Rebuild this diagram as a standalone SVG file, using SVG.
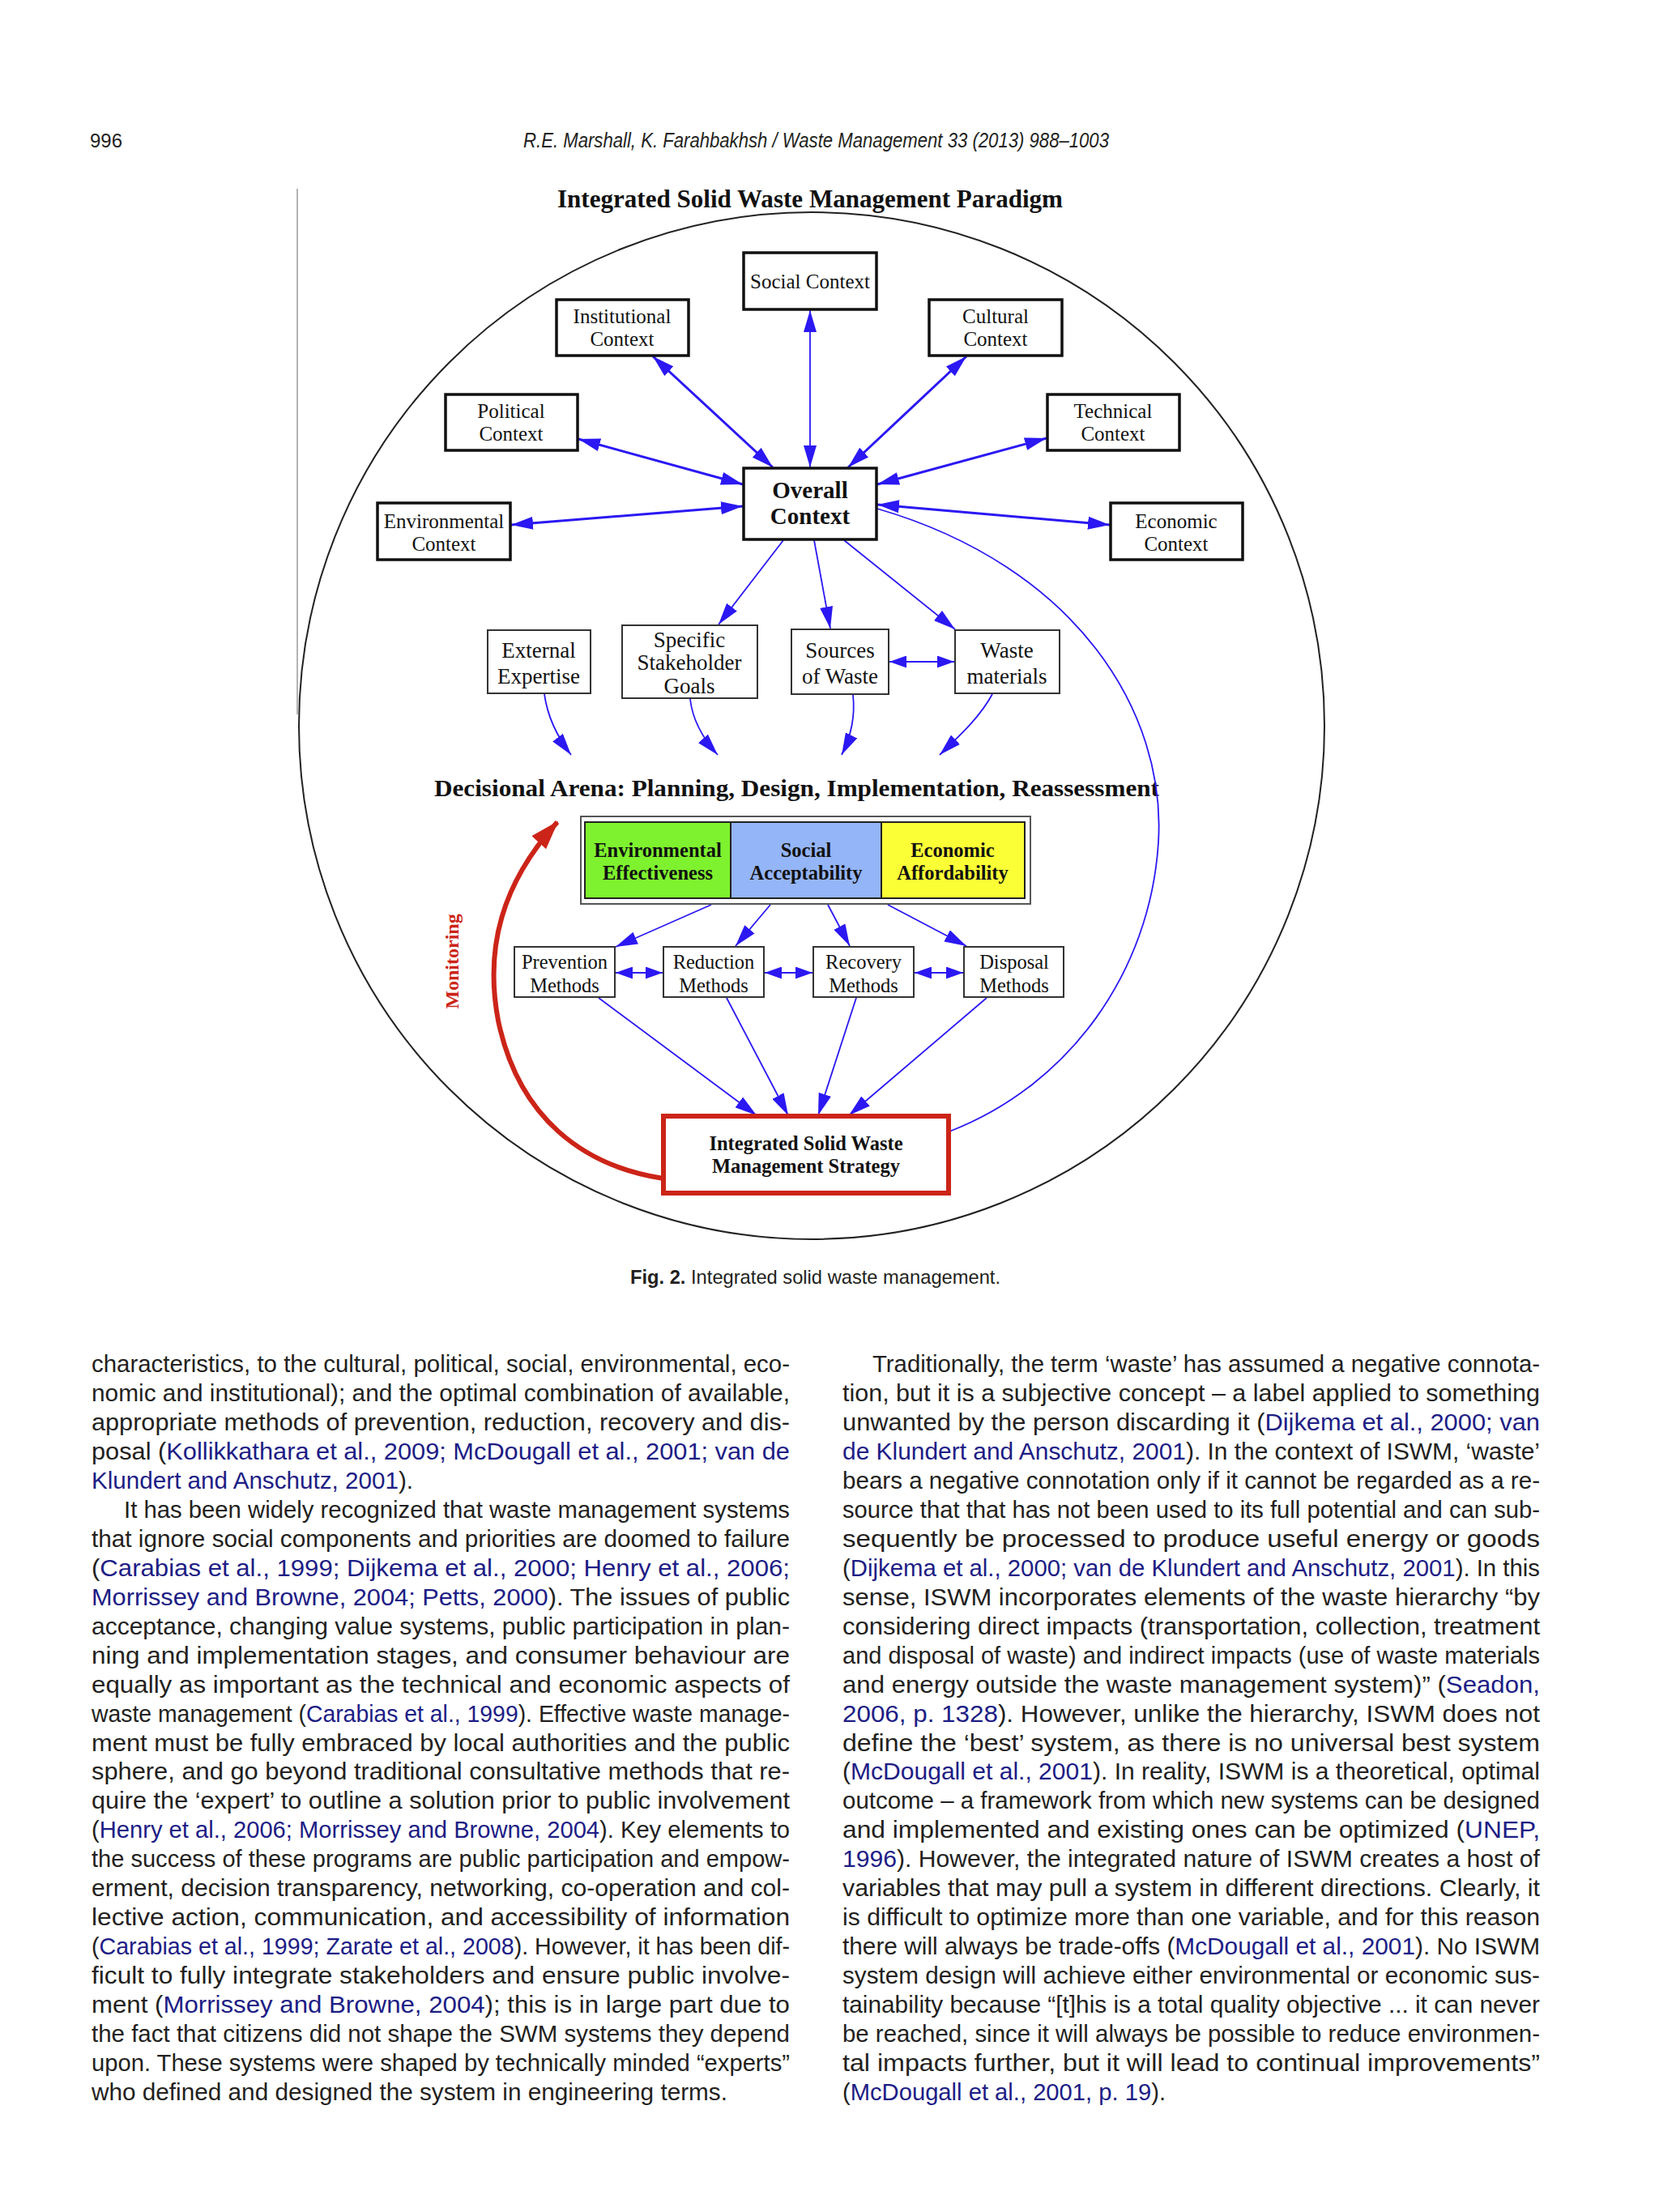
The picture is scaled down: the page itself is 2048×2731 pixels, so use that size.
<svg xmlns="http://www.w3.org/2000/svg" width="2048" height="2731" viewBox="0 0 2048 2731">
<style>
.ser{font-family:"Liberation Serif","Times New Roman",serif;fill:#111}
.ctx{font-size:25px}
.low{font-size:27px}
.met{font-size:24.5px}
.bld{font-weight:bold}
.box{fill:#fff;stroke:#111;stroke-width:3.5}
.tbox{fill:#fff;stroke:#333;stroke-width:2}
.arr{fill:none;stroke:#2b18f2;stroke-width:1.8}
.arrT{fill:none;stroke:#2b18f2;stroke-width:3}
.body{font-family:"Liberation Sans",Arial,sans-serif;font-size:29px;fill:#231f20}
.cit{fill:#1d1d85}
</style>
<defs>
<marker id="ah" markerUnits="userSpaceOnUse" markerWidth="27" markerHeight="16" viewBox="0 0 27 16" refX="27" refY="8" orient="auto-start-reverse"><path d="M0,0 L27,8 L0,16 z" fill="#2b18f2"/></marker>
<marker id="ahs" markerUnits="userSpaceOnUse" markerWidth="21" markerHeight="15" viewBox="0 0 21 15" refX="21" refY="7.5" orient="auto-start-reverse"><path d="M0,0 L21,7.5 L0,15 z" fill="#2b18f2"/></marker>
<marker id="ahr" markerUnits="userSpaceOnUse" markerWidth="36" markerHeight="24" viewBox="0 0 36 24" refX="34" refY="12" orient="auto"><path d="M0,0 L36,12 L0,24 z" fill="#cc2418"/></marker>
</defs>
<rect width="2048" height="2731" fill="#fff"/>

<g id="header">
<text x="111" y="182" style="font-family:'Liberation Sans',Arial,sans-serif;font-size:24px;fill:#231f20">996</text>
<text x="646" y="182" textLength="723" lengthAdjust="spacingAndGlyphs" style="font-family:'Liberation Sans',Arial,sans-serif;font-size:25px;font-style:italic;fill:#231f20">R.E. Marshall, K. Farahbakhsh / Waste Management 33 (2013) 988–1003</text>
</g>

<g id="frame">
<line x1="367" y1="233" x2="367" y2="882" stroke="#9a9a9a" stroke-width="1.5"/>
<ellipse cx="1002" cy="896" rx="633" ry="634" fill="none" stroke="#222" stroke-width="2"/>
<text class="ser bld" x="1000" y="256" text-anchor="middle" font-size="31" textLength="624" lengthAdjust="spacingAndGlyphs">Integrated Solid Waste Management Paradigm</text>
<text class="ser bld" x="536" y="983" font-size="30" textLength="895" lengthAdjust="spacingAndGlyphs">Decisional Arena: Planning, Design, Implementation, Reassessment</text>
<text class="bld" transform="translate(566,1187) rotate(-90)" text-anchor="middle" style="font-family:'Liberation Serif',serif;font-size:24px;fill:#cc2418">Monitoring</text>
</g>

<g id="connectors">
<line class="arr" x1="1000" y1="383" x2="1000" y2="577" marker-start="url(#ah)" marker-end="url(#ah)"/>
<line class="arrT" x1="806" y1="440" x2="954" y2="577" marker-start="url(#ah)" marker-end="url(#ah)"/>
<line class="arrT" x1="1193" y1="440" x2="1047" y2="577" marker-start="url(#ah)" marker-end="url(#ah)"/>
<line class="arrT" x1="714" y1="542" x2="917" y2="598" marker-start="url(#ah)" marker-end="url(#ah)"/>
<line class="arrT" x1="1292" y1="541" x2="1083" y2="598" marker-start="url(#ah)" marker-end="url(#ah)"/>
<line class="arrT" x1="631" y1="648" x2="917" y2="625" marker-start="url(#ah)" marker-end="url(#ah)"/>
<line class="arrT" x1="1370" y1="648" x2="1083" y2="623" marker-start="url(#ah)" marker-end="url(#ah)"/>
<line class="arr" x1="967" y1="667" x2="887" y2="771" marker-end="url(#ah)"/>
<line class="arr" x1="1005" y1="667" x2="1025" y2="776" marker-end="url(#ah)"/>
<line class="arr" x1="1042" y1="667" x2="1179" y2="777" marker-end="url(#ah)"/>
<line class="arr" x1="1098" y1="817" x2="1178" y2="817" marker-start="url(#ahs)" marker-end="url(#ahs)"/>
<path class="arr" d="M672,857 C676,885 688,910 705,932" marker-end="url(#ah)"/>
<path class="arr" d="M852,863 C855,890 868,912 886,932" marker-end="url(#ah)"/>
<path class="arr" d="M1053,858 C1056,885 1050,910 1039,932" marker-end="url(#ah)"/>
<path class="arr" d="M1225,857 C1210,885 1185,908 1160,932" marker-end="url(#ah)"/>
<path class="arr" d="M1083,628 C1330,700 1440,880 1430,1040 C1420,1200 1320,1340 1172,1397"/>
<line class="arr" x1="878" y1="1117" x2="760" y2="1169" marker-end="url(#ah)"/>
<line class="arr" x1="951" y1="1117" x2="908" y2="1168" marker-end="url(#ah)"/>
<line class="arr" x1="1022" y1="1117" x2="1049" y2="1168" marker-end="url(#ah)"/>
<line class="arr" x1="1096" y1="1117" x2="1193" y2="1168" marker-end="url(#ah)"/>
<line class="arr" x1="760" y1="1201" x2="818" y2="1201" marker-start="url(#ahs)" marker-end="url(#ahs)"/>
<line class="arr" x1="944" y1="1201" x2="1003" y2="1201" marker-start="url(#ahs)" marker-end="url(#ahs)"/>
<line class="arr" x1="1129" y1="1201" x2="1189" y2="1201" marker-start="url(#ahs)" marker-end="url(#ahs)"/>
<line class="arr" x1="739" y1="1232" x2="934" y2="1377" marker-end="url(#ah)"/>
<line class="arr" x1="897" y1="1232" x2="973" y2="1377" marker-end="url(#ah)"/>
<line class="arr" x1="1057" y1="1232" x2="1010" y2="1377" marker-end="url(#ah)"/>
<line class="arr" x1="1218" y1="1232" x2="1048" y2="1377" marker-end="url(#ah)"/>
<path d="M819,1455 C720,1440 640,1380 615,1260 C598,1170 620,1090 688,1015" fill="none" stroke="#cc2418" stroke-width="6" marker-end="url(#ahr)"/>
</g>

<g id="social-context"><rect class="box" x="918" y="312" width="164" height="70"/><text class="ser ctx" x="1000" y="356" text-anchor="middle">Social Context</text></g>
<g id="institutional-context"><rect class="box" x="687" y="370" width="163" height="69"/><text class="ser ctx" x="768" y="399" text-anchor="middle">Institutional</text><text class="ser ctx" x="768" y="427" text-anchor="middle">Context</text></g>
<g id="cultural-context"><rect class="box" x="1147" y="370" width="164" height="69"/><text class="ser ctx" x="1229" y="399" text-anchor="middle">Cultural</text><text class="ser ctx" x="1229" y="427" text-anchor="middle">Context</text></g>
<g id="political-context"><rect class="box" x="550" y="487" width="163" height="69"/><text class="ser ctx" x="631" y="516" text-anchor="middle">Political</text><text class="ser ctx" x="631" y="544" text-anchor="middle">Context</text></g>
<g id="technical-context"><rect class="box" x="1293" y="487" width="163" height="69"/><text class="ser ctx" x="1374" y="516" text-anchor="middle">Technical</text><text class="ser ctx" x="1374" y="544" text-anchor="middle">Context</text></g>
<g id="environmental-context"><rect class="box" x="466" y="621" width="164" height="70"/><text class="ser ctx" x="548" y="652" text-anchor="middle">Environmental</text><text class="ser ctx" x="548" y="680" text-anchor="middle">Context</text></g>
<g id="economic-context"><rect class="box" x="1371" y="621" width="163" height="70"/><text class="ser ctx" x="1452" y="652" text-anchor="middle">Economic</text><text class="ser ctx" x="1452" y="680" text-anchor="middle">Context</text></g>
<g id="overall-context"><rect class="box" x="918" y="578" width="164" height="88"/><text class="ser bld" font-size="29" x="1000" y="615" text-anchor="middle">Overall</text><text class="ser bld" font-size="29" x="1000" y="647" text-anchor="middle">Context</text></g>

<g id="external-expertise"><rect class="tbox" x="602" y="778" width="127" height="78"/><text class="ser low" x="665" y="812" text-anchor="middle">External</text><text class="ser low" x="665" y="844" text-anchor="middle">Expertise</text></g>
<g id="stakeholder-goals"><rect class="tbox" x="768" y="772" width="167" height="90"/><text class="ser low" x="851" y="799" text-anchor="middle">Specific</text><text class="ser low" x="851" y="827" text-anchor="middle">Stakeholder</text><text class="ser low" x="851" y="856" text-anchor="middle">Goals</text></g>
<g id="sources-of-waste"><rect class="tbox" x="977" y="777" width="120" height="80"/><text class="ser low" x="1037" y="812" text-anchor="middle">Sources</text><text class="ser low" x="1037" y="844" text-anchor="middle">of Waste</text></g>
<g id="waste-materials"><rect class="tbox" x="1179" y="778" width="129" height="78"/><text class="ser low" x="1243" y="812" text-anchor="middle">Waste</text><text class="ser low" x="1243" y="844" text-anchor="middle">materials</text></g>

<g id="criteria">
<rect x="717" y="1008" width="555" height="108" fill="#fff" stroke="#555" stroke-width="2"/>
<rect x="722" y="1015" width="180" height="94" fill="#7ef22e" stroke="#222" stroke-width="2"/>
<rect x="902" y="1015" width="186" height="94" fill="#94b5f7" stroke="#222" stroke-width="2"/>
<rect x="1088" y="1015" width="177" height="94" fill="#fbff36" stroke="#222" stroke-width="2"/>
<text class="ser bld met" x="812" y="1058" text-anchor="middle">Environmental</text><text class="ser bld met" x="812" y="1086" text-anchor="middle">Effectiveness</text>
<text class="ser bld met" x="995" y="1058" text-anchor="middle">Social</text><text class="ser bld met" x="995" y="1086" text-anchor="middle">Acceptability</text>
<text class="ser bld met" x="1176" y="1058" text-anchor="middle">Economic</text><text class="ser bld met" x="1176" y="1086" text-anchor="middle">Affordability</text>
</g>

<g id="prevention-methods"><rect class="tbox" x="635" y="1169" width="124" height="62"/><text class="ser met" x="697" y="1196" text-anchor="middle">Prevention</text><text class="ser met" x="697" y="1225" text-anchor="middle">Methods</text></g>
<g id="reduction-methods"><rect class="tbox" x="819" y="1169" width="124" height="62"/><text class="ser met" x="881" y="1196" text-anchor="middle">Reduction</text><text class="ser met" x="881" y="1225" text-anchor="middle">Methods</text></g>
<g id="recovery-methods"><rect class="tbox" x="1004" y="1169" width="124" height="62"/><text class="ser met" x="1066" y="1196" text-anchor="middle">Recovery</text><text class="ser met" x="1066" y="1225" text-anchor="middle">Methods</text></g>
<g id="disposal-methods"><rect class="tbox" x="1190" y="1169" width="123" height="62"/><text class="ser met" x="1252" y="1196" text-anchor="middle">Disposal</text><text class="ser met" x="1252" y="1225" text-anchor="middle">Methods</text></g>

<g id="iswm-strategy"><rect x="819" y="1378" width="352" height="95" fill="#fff" stroke="#cc2418" stroke-width="6"/><text class="ser bld met" x="995" y="1420" text-anchor="middle">Integrated Solid Waste</text><text class="ser bld met" x="995" y="1448" text-anchor="middle">Management Strategy</text></g>

<g id="caption">
<text x="778" y="1585" textLength="457" lengthAdjust="spacingAndGlyphs" style="font-family:'Liberation Sans',Arial,sans-serif;font-size:24px;fill:#231f20"><tspan font-weight="bold">Fig. 2.</tspan>  Integrated solid waste management.</text>
</g>

<g id="text-left" class="body">
<text x="113" y="1694" textLength="862" lengthAdjust="spacingAndGlyphs">characteristics, to the cultural, political, social, environmental, eco-</text>
<text x="113" y="1730" textLength="862" lengthAdjust="spacingAndGlyphs">nomic and institutional); and the optimal combination of available,</text>
<text x="113" y="1765.9" textLength="862" lengthAdjust="spacingAndGlyphs">appropriate methods of prevention, reduction, recovery and dis-</text>
<text x="113" y="1801.9" textLength="862" lengthAdjust="spacingAndGlyphs">posal (<tspan class="cit">Kollikkathara et al., 2009; McDougall et al., 2001; van de</tspan></text>
<text x="113" y="1837.8" textLength="397" lengthAdjust="spacingAndGlyphs"><tspan class="cit">Klundert and Anschutz, 2001</tspan>).</text>
<text x="153" y="1873.8" textLength="822" lengthAdjust="spacingAndGlyphs">It has been widely recognized that waste management systems</text>
<text x="113" y="1909.8" textLength="862" lengthAdjust="spacingAndGlyphs">that ignore social components and priorities are doomed to failure</text>
<text x="113" y="1945.7" textLength="862" lengthAdjust="spacingAndGlyphs">(<tspan class="cit">Carabias et al., 1999; Dijkema et al., 2000; Henry et al., 2006;</tspan></text>
<text x="113" y="1981.7" textLength="862" lengthAdjust="spacingAndGlyphs"><tspan class="cit">Morrissey and Browne, 2004; Petts, 2000</tspan>). The issues of public</text>
<text x="113" y="2017.6" textLength="862" lengthAdjust="spacingAndGlyphs">acceptance, changing value systems, public participation in plan-</text>
<text x="113" y="2053.6" textLength="862" lengthAdjust="spacingAndGlyphs">ning and implementation stages, and consumer behaviour are</text>
<text x="113" y="2089.6" textLength="862" lengthAdjust="spacingAndGlyphs">equally as important as the technical and economic aspects of</text>
<text x="113" y="2125.5" textLength="862" lengthAdjust="spacingAndGlyphs">waste management (<tspan class="cit">Carabias et al., 1999</tspan>). Effective waste manage-</text>
<text x="113" y="2161.5" textLength="862" lengthAdjust="spacingAndGlyphs">ment must be fully embraced by local authorities and the public</text>
<text x="113" y="2197.4" textLength="862" lengthAdjust="spacingAndGlyphs">sphere, and go beyond traditional consultative methods that re-</text>
<text x="113" y="2233.4" textLength="862" lengthAdjust="spacingAndGlyphs">quire the ‘expert’ to outline a solution prior to public involvement</text>
<text x="113" y="2269.4" textLength="862" lengthAdjust="spacingAndGlyphs">(<tspan class="cit">Henry et al., 2006; Morrissey and Browne, 2004</tspan>). Key elements to</text>
<text x="113" y="2305.3" textLength="862" lengthAdjust="spacingAndGlyphs">the success of these programs are public participation and empow-</text>
<text x="113" y="2341.3" textLength="862" lengthAdjust="spacingAndGlyphs">erment, decision transparency, networking, co-operation and col-</text>
<text x="113" y="2377.2" textLength="862" lengthAdjust="spacingAndGlyphs">lective action, communication, and accessibility of information</text>
<text x="113" y="2413.2" textLength="862" lengthAdjust="spacingAndGlyphs">(<tspan class="cit">Carabias et al., 1999; Zarate et al., 2008</tspan>). However, it has been dif-</text>
<text x="113" y="2449.2" textLength="862" lengthAdjust="spacingAndGlyphs">ficult to fully integrate stakeholders and ensure public involve-</text>
<text x="113" y="2485.1" textLength="862" lengthAdjust="spacingAndGlyphs">ment (<tspan class="cit">Morrissey and Browne, 2004</tspan>); this is in large part due to</text>
<text x="113" y="2521.1" textLength="862" lengthAdjust="spacingAndGlyphs">the fact that citizens did not shape the SWM systems they depend</text>
<text x="113" y="2557" textLength="862" lengthAdjust="spacingAndGlyphs">upon. These systems were shaped by technically minded “experts”</text>
<text x="113" y="2593" textLength="785" lengthAdjust="spacingAndGlyphs">who defined and designed the system in engineering terms.</text>
</g>

<g id="text-right" class="body">
<text x="1077" y="1694" textLength="824" lengthAdjust="spacingAndGlyphs">Traditionally, the term ‘waste’ has assumed a negative connota-</text>
<text x="1040" y="1730" textLength="861" lengthAdjust="spacingAndGlyphs">tion, but it is a subjective concept – a label applied to something</text>
<text x="1040" y="1765.9" textLength="861" lengthAdjust="spacingAndGlyphs">unwanted by the person discarding it (<tspan class="cit">Dijkema et al., 2000; van</tspan></text>
<text x="1040" y="1801.9" textLength="861" lengthAdjust="spacingAndGlyphs"><tspan class="cit">de Klundert and Anschutz, 2001</tspan>). In the context of ISWM, ‘waste’</text>
<text x="1040" y="1837.8" textLength="861" lengthAdjust="spacingAndGlyphs">bears a negative connotation only if it cannot be regarded as a re-</text>
<text x="1040" y="1873.8" textLength="861" lengthAdjust="spacingAndGlyphs">source that that has not been used to its full potential and can sub-</text>
<text x="1040" y="1909.8" textLength="861" lengthAdjust="spacingAndGlyphs">sequently be processed to produce useful energy or goods</text>
<text x="1040" y="1945.7" textLength="861" lengthAdjust="spacingAndGlyphs">(<tspan class="cit">Dijkema et al., 2000; van de Klundert and Anschutz, 2001</tspan>). In this</text>
<text x="1040" y="1981.7" textLength="861" lengthAdjust="spacingAndGlyphs">sense, ISWM incorporates elements of the waste hierarchy “by</text>
<text x="1040" y="2017.6" textLength="861" lengthAdjust="spacingAndGlyphs">considering direct impacts (transportation, collection, treatment</text>
<text x="1040" y="2053.6" textLength="861" lengthAdjust="spacingAndGlyphs">and disposal of waste) and indirect impacts (use of waste materials</text>
<text x="1040" y="2089.6" textLength="861" lengthAdjust="spacingAndGlyphs">and energy outside the waste management system)” (<tspan class="cit">Seadon,</tspan></text>
<text x="1040" y="2125.5" textLength="861" lengthAdjust="spacingAndGlyphs"><tspan class="cit">2006, p. 1328</tspan>). However, unlike the hierarchy, ISWM does not</text>
<text x="1040" y="2161.5" textLength="861" lengthAdjust="spacingAndGlyphs">define the ‘best’ system, as there is no universal best system</text>
<text x="1040" y="2197.4" textLength="861" lengthAdjust="spacingAndGlyphs">(<tspan class="cit">McDougall et al., 2001</tspan>). In reality, ISWM is a theoretical, optimal</text>
<text x="1040" y="2233.4" textLength="861" lengthAdjust="spacingAndGlyphs">outcome – a framework from which new systems can be designed</text>
<text x="1040" y="2269.4" textLength="861" lengthAdjust="spacingAndGlyphs">and implemented and existing ones can be optimized (<tspan class="cit">UNEP,</tspan></text>
<text x="1040" y="2305.3" textLength="861" lengthAdjust="spacingAndGlyphs"><tspan class="cit">1996</tspan>). However, the integrated nature of ISWM creates a host of</text>
<text x="1040" y="2341.3" textLength="861" lengthAdjust="spacingAndGlyphs">variables that may pull a system in different directions. Clearly, it</text>
<text x="1040" y="2377.2" textLength="861" lengthAdjust="spacingAndGlyphs">is difficult to optimize more than one variable, and for this reason</text>
<text x="1040" y="2413.2" textLength="861" lengthAdjust="spacingAndGlyphs">there will always be trade-offs (<tspan class="cit">McDougall et al., 2001</tspan>). No ISWM</text>
<text x="1040" y="2449.2" textLength="861" lengthAdjust="spacingAndGlyphs">system design will achieve either environmental or economic sus-</text>
<text x="1040" y="2485.1" textLength="861" lengthAdjust="spacingAndGlyphs">tainability because “[t]his is a total quality objective ... it can never</text>
<text x="1040" y="2521.1" textLength="861" lengthAdjust="spacingAndGlyphs">be reached, since it will always be possible to reduce environmen-</text>
<text x="1040" y="2557" textLength="861" lengthAdjust="spacingAndGlyphs">tal impacts further, but it will lead to continual improvements”</text>
<text x="1040" y="2593" textLength="399" lengthAdjust="spacingAndGlyphs">(<tspan class="cit">McDougall et al., 2001, p. 19</tspan>).</text>
</g>
</svg>
